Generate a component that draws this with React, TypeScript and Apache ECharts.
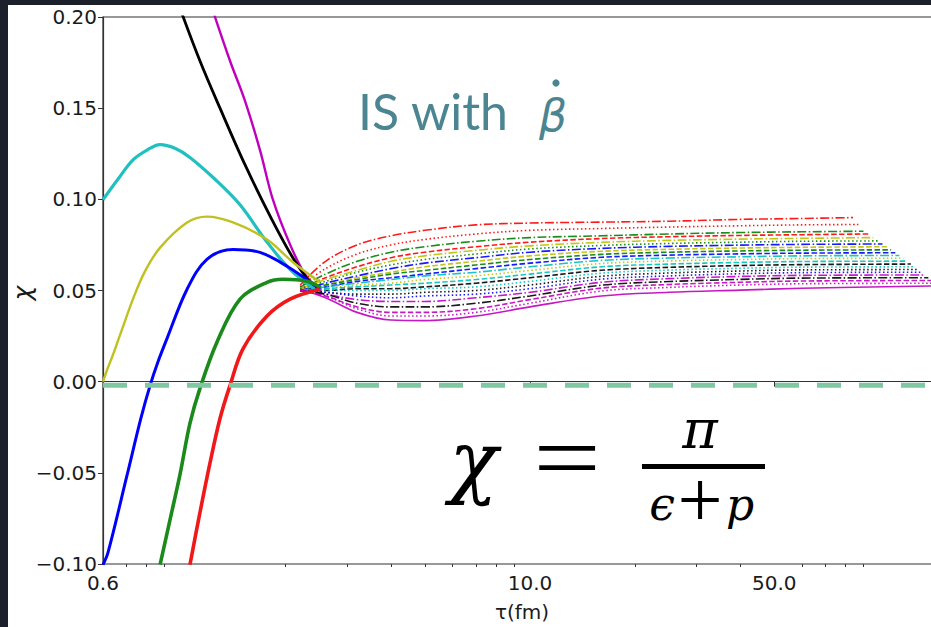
import React, { useEffect, useRef } from 'react';
import * as echarts from 'echarts';

// ---------- axes ----------
const X_MIN = 0.6;
const X_MAX = 150;
const X_MAJOR_TICKS = [0.6, 10, 50];
const X_MINOR_TICKS = [0.7, 0.8, 0.9, 2, 3, 4, 5, 6, 7, 8, 9, 20, 30, 40, 60, 70, 80, 90];
const Y_MIN = -0.1;
const Y_MAX = 0.2;
const Y_STEP = 0.05;

// ---------- early-time curves [tau, chi] ----------
const MAGENTA_EARLY = [[1.24, 0.203], [1.385, 0.176], [1.529, 0.154], [1.688, 0.127], [1.838, 0.0998], [2.057, 0.0753], [2.27, 0.0589], [2.507, 0.0496]];
const BLACK_EARLY = [[1.0, 0.204], [1.136, 0.176], [1.297, 0.15], [1.529, 0.119], [1.826, 0.0889], [2.126, 0.066], [2.426, 0.0507]];
const CYAN_EARLY = [[0.6, 0.0998], [0.662, 0.111], [0.731, 0.1216], [0.802, 0.127], [0.874, 0.13], [0.964, 0.128], [1.064, 0.123], [1.255, 0.111], [1.48, 0.097], [1.745, 0.078], [2.057, 0.0616], [2.426, 0.0507]];
const YELLOW_EARLY = [[0.6, 0.0], [0.615, 0.006], [0.64, 0.0145], [0.671, 0.0255], [0.731, 0.0453], [0.791, 0.0605], [0.874, 0.0735], [1.044, 0.0873], [1.19, 0.0905], [1.413, 0.0873], [1.768, 0.078], [2.098, 0.0655], [2.507, 0.0545]];
const BLUE_EARLY = [[0.6, -0.1004], [0.62, -0.0938], [0.703, -0.0513], [0.77, -0.0202], [0.818, -0.0022], [0.862, 0.0109], [0.914, 0.0235], [1.044, 0.0507], [1.19, 0.0671], [1.413, 0.0725], [1.688, 0.0709], [2.017, 0.0633], [2.507, 0.0507]];
const GREEN_EARLY = [[0.874, -0.1004], [0.933, -0.0758], [0.997, -0.0507], [1.064, -0.0229], [1.136, -0.0038], [1.272, 0.0218], [1.48, 0.0453], [1.768, 0.0545], [1.964, 0.0562], [2.3, 0.0551], [2.507, 0.0518]];
const RED_EARLY = [[1.064, -0.1004], [1.136, -0.072], [1.214, -0.0447], [1.297, -0.0202], [1.385, -0.0022], [1.509, 0.018], [1.768, 0.036], [2.057, 0.0453], [2.507, 0.0507]];

// ---------- late-time fan ----------
const FAN_TAU = [2.2, 2.6, 3.2, 4, 5, 7, 10, 16, 25, 40, 60];
const FAN_END_TAU = [84, 87, 90, 93, 96, 99, 102, 105, 108, 111, 114, 117, 120, 123, 126, 129, 132, 135, 138, 141, 143, 145];
const FAN_CHI = [
  [0.053, 0.066, 0.075, 0.080, 0.083, 0.086, 0.087, 0.0875, 0.088, 0.089, 0.0895, 0.090],
  [0.052, 0.062, 0.070, 0.075, 0.078, 0.081, 0.083, 0.084, 0.0848, 0.0855, 0.086, 0.0862],
  [0.052, 0.059, 0.066, 0.071, 0.074, 0.077, 0.079, 0.080, 0.081, 0.0818, 0.0822, 0.0825],
  [0.051, 0.057, 0.063, 0.068, 0.071, 0.074, 0.0765, 0.0785, 0.0795, 0.0802, 0.0806, 0.081],
  [0.051, 0.056, 0.061, 0.066, 0.069, 0.072, 0.0745, 0.0764, 0.0775, 0.0782, 0.0786, 0.079],
  [0.051, 0.055, 0.060, 0.064, 0.067, 0.070, 0.0728, 0.0747, 0.0758, 0.0765, 0.077, 0.0772],
  [0.050, 0.054, 0.058, 0.062, 0.065, 0.068, 0.071, 0.0731, 0.0742, 0.0749, 0.0753, 0.0755],
  [0.050, 0.053, 0.057, 0.060, 0.063, 0.066, 0.069, 0.0715, 0.0726, 0.0733, 0.0737, 0.074],
  [0.050, 0.053, 0.056, 0.059, 0.061, 0.064, 0.067, 0.0698, 0.071, 0.0717, 0.0721, 0.0723],
  [0.050, 0.052, 0.055, 0.057, 0.059, 0.062, 0.065, 0.0682, 0.0694, 0.0701, 0.0705, 0.0707],
  [0.050, 0.052, 0.054, 0.056, 0.058, 0.060, 0.063, 0.0665, 0.0678, 0.0685, 0.069, 0.0692],
  [0.050, 0.051, 0.053, 0.054, 0.056, 0.058, 0.061, 0.0648, 0.0662, 0.067, 0.0675, 0.0677],
  [0.050, 0.051, 0.052, 0.053, 0.054, 0.056, 0.059, 0.063, 0.0645, 0.0654, 0.0659, 0.0661],
  [0.050, 0.050, 0.051, 0.051, 0.052, 0.054, 0.057, 0.0611, 0.0627, 0.0637, 0.0642, 0.0645],
  [0.050, 0.050, 0.050, 0.050, 0.051, 0.052, 0.055, 0.0595, 0.0612, 0.0622, 0.0628, 0.063],
  [0.050, 0.049, 0.048, 0.048, 0.049, 0.050, 0.053, 0.0578, 0.0596, 0.0607, 0.0613, 0.0615],
  [0.050, 0.049, 0.047, 0.046, 0.047, 0.048, 0.051, 0.0562, 0.058, 0.0592, 0.0598, 0.060],
  [0.050, 0.048, 0.045, 0.044, 0.044, 0.046, 0.049, 0.0545, 0.0565, 0.0577, 0.0583, 0.0585],
  [0.050, 0.048, 0.043, 0.041, 0.041, 0.043, 0.047, 0.0529, 0.0549, 0.0561, 0.0568, 0.057],
  [0.050, 0.047, 0.041, 0.038, 0.038, 0.040, 0.045, 0.0513, 0.0533, 0.0545, 0.0552, 0.0555],
  [0.050, 0.047, 0.040, 0.036, 0.036, 0.038, 0.043, 0.0497, 0.0517, 0.053, 0.0537, 0.054],
  [0.0505, 0.046, 0.038, 0.0338, 0.0335, 0.036, 0.041, 0.047, 0.049, 0.0502, 0.0512, 0.0525],
];
const FAN_COLOR_KEY = ['r', 'r', 'g', 'r', 'y', 'g', 'b', 'y', 'g', 'b', 'c', 'y', 'c', 'k', 'c', 'k', 'b', 'm', 'k', 'm', 'm', 'm'];
const FAN_STYLE_KEY = ['-.', ':', '-.', '--', '-.', ':', '-.', '--', '--', '--', '-.', ':', '--', '--', ':', ':', ':', '-.', '-.', '--', ':', '-'];

// zero reference line
const ZERO_TAU = [0.6, 150];
const ZERO_CHI = [-0.002, -0.002];

const MPL: Record<string, string> = {
  b: '#0000ff', g: '#008000', r: '#ff0000', c: '#00bfbf', m: '#bf00bf', y: '#bfbf00', k: '#000000',
};
const DASH: Record<string, any> = {
  '-': 'solid',
  '--': [5.5, 2.4],
  '-.': [9, 2.4, 1.5, 2.4],
  ':': [1.5, 2.5],
};

const TEAL = '#4a8591';

function buildOption() {
  const series: any[] = [];

  FAN_CHI.forEach((vals, i) => {
    const data = FAN_TAU.map((t, j) => [t, vals[j]]);
    data.push([FAN_END_TAU[i], vals[vals.length - 1]]);
    series.push({
      type: 'line',
      data,
      symbol: 'none',
      smooth: 0.35,
      silent: true,
      lineStyle: { color: MPL[FAN_COLOR_KEY[i]], width: 1.6, type: DASH[FAN_STYLE_KEY[i]], opacity: 0.9 },
    });
  });

  const early = [
    { pts: MAGENTA_EARLY, color: MPL.m, width: 2.4 },
    { pts: BLACK_EARLY, color: MPL.k, width: 2.8 },
    { pts: CYAN_EARLY, color: '#20c0c0', width: 3.2 },
    { pts: YELLOW_EARLY, color: '#c0c020', width: 2.4 },
    { pts: BLUE_EARLY, color: MPL.b, width: 3 },
    { pts: GREEN_EARLY, color: '#1a8a1a', width: 3.6 },
    { pts: RED_EARLY, color: '#f01818', width: 3.6 },
  ];
  early.forEach((e) => {
    series.push({
      type: 'line',
      data: e.pts,
      symbol: 'none',
      smooth: 0.35,
      silent: true,
      lineStyle: { color: e.color, width: e.width },
    });
  });

  series.push({
    type: 'line',
    data: ZERO_TAU.map((t, i) => [t, ZERO_CHI[i]]),
    symbol: 'none',
    silent: true,
    lineStyle: { color: '#7fc8a2', width: 5, type: [24, 18] },
    z: 5,
  });

  const axisColor = '#333';
  const labelFont = { color: '#1a1a1a', fontFamily: 'DejaVu Sans', fontSize: 20 };

  return {
    animation: false,
    backgroundColor: 'transparent',
    grid: { left: 95, top: 12, right: 59, bottom: 60, show: true, borderColor: axisColor, borderWidth: 1.2, backgroundColor: '#fff' },
    xAxis: [
      {
        type: 'log',
        logBase: 10,
        min: X_MIN,
        max: X_MAX,
        position: 'bottom',
        name: 'τ(fm)',
        nameLocation: 'middle',
        nameGap: 38,
        nameTextStyle: { color: '#1a1a1a', fontFamily: 'DejaVu Sans', fontSize: 20 },
        axisLine: { show: true, lineStyle: { color: axisColor, width: 1.2 } },
        axisTick: { show: true, length: 5, customValues: X_MAJOR_TICKS, lineStyle: { color: axisColor } },
        axisLabel: { ...labelFont, margin: 9, customValues: X_MAJOR_TICKS, formatter: (v: number) => Number(v).toFixed(1) },
        splitLine: { show: false },
        minorTick: { show: false },
      },
      {
        type: 'log',
        logBase: 10,
        min: X_MIN,
        max: X_MAX,
        position: 'bottom',
        axisLine: { show: false },
        axisTick: { show: true, length: 3, customValues: X_MINOR_TICKS, lineStyle: { color: axisColor } },
        axisLabel: { show: false },
        splitLine: { show: false },
      },
    ],
    yAxis: {
      type: 'value',
      min: Y_MIN,
      max: Y_MAX,
      interval: Y_STEP,
      axisLine: { show: true, lineStyle: { color: axisColor, width: 1.2 } },
      axisTick: { show: true, length: 5, lineStyle: { color: axisColor } },
      axisLabel: {
        ...labelFont,
        margin: 6,
        formatter: (v: number) => (v < -1e-9 ? '\u2212' : '') + Math.abs(v).toFixed(2),
      },
      splitLine: { show: false },
    },
    graphic: [
      { type: 'text', x: 14, y: 288, rotation: Math.PI / 2, style: { text: 'χ', fill: '#1a1a1a', font: 'italic 25px "DejaVu Sans"', textAlign: 'center', textVerticalAlign: 'middle' } },
      { type: 'text', x: 350, y: 105.6, style: { text: 'IS with', fill: TEAL, font: '50px Lato', textAlign: 'left', textVerticalAlign: 'middle' } },
      { type: 'text', x: 545, y: 110, style: { text: 'β', fill: TEAL, font: 'italic 44px "DejaVu Sans"', textAlign: 'center', textVerticalAlign: 'middle' } },
      { type: 'circle', shape: { cx: 548, cy: 78, r: 3.6 }, style: { fill: TEAL } },
      { type: 'text', x: 465.5, y: 455.8, style: { text: 'χ', fill: '#000', font: 'italic 80px "DejaVu Serif"', textAlign: 'center', textVerticalAlign: 'middle' } },
      { type: 'text', x: 559, y: 452.6, scaleX: 1.25, style: { text: '=', fill: '#000', font: '96px "Liberation Serif"', textAlign: 'center', textVerticalAlign: 'middle' } },
      { type: 'rect', shape: { x: 634, y: 459, width: 123, height: 5 }, style: { fill: '#000' } },
      { type: 'text', x: 692, y: 424.3, style: { text: 'π', fill: '#000', font: 'italic 54px "DejaVu Serif"', textAlign: 'center', textVerticalAlign: 'middle' } },
      { type: 'text', x: 654, y: 499, style: { text: 'ϵ', fill: '#000', font: 'italic 46px "DejaVu Serif"', textAlign: 'center', textVerticalAlign: 'middle' } },
      { type: 'text', x: 692, y: 495, style: { text: '+', fill: '#000', font: '80px "Liberation Serif"', textAlign: 'center', textVerticalAlign: 'middle' } },
      { type: 'text', x: 732, y: 499.8, style: { text: 'p', fill: '#000', font: 'italic 44px "DejaVu Serif"', textAlign: 'center', textVerticalAlign: 'middle' } },
    ],
    series,
  };
}

export default function App() {
  const ref = useRef<HTMLDivElement>(null);
  useEffect(() => {
    if (!ref.current) return;
    const chart = echarts.init(ref.current, null, { renderer: 'svg' });
    chart.setOption(buildOption());
    return () => chart.dispose();
  }, []);
  return (
    <div style={{ position: 'fixed', left: 0, top: 0, width: 931, height: 627, background: '#1b202a', overflow: 'hidden' }}>
      <div ref={ref} style={{ position: 'absolute', left: 8, top: 5, width: 992, height: 622, background: '#fff' }} />
    </div>
  );
}
